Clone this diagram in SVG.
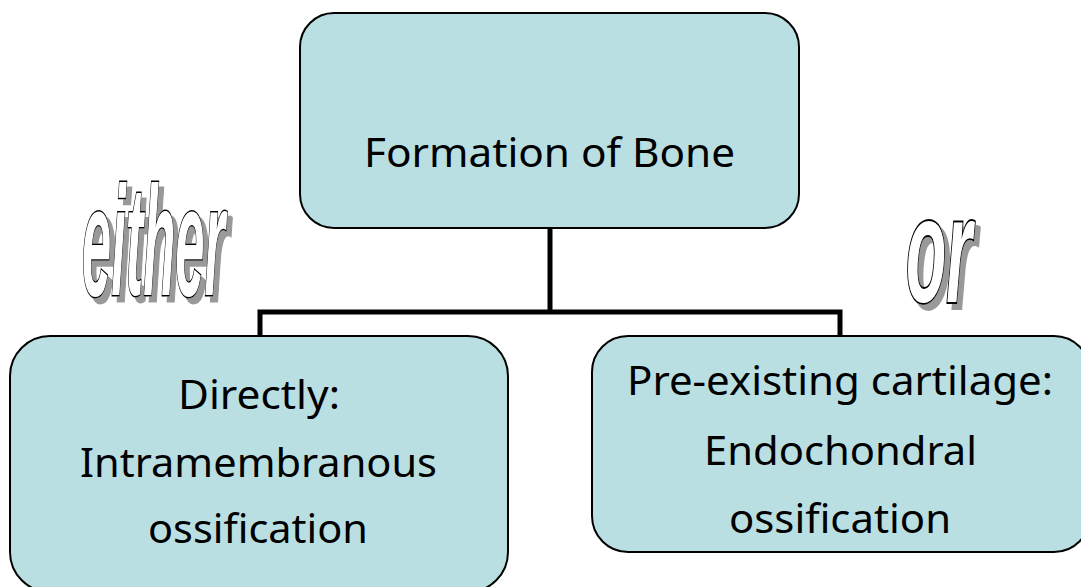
<svg xmlns="http://www.w3.org/2000/svg" width="1081" height="587" viewBox="0 0 1081 587">
<defs>
<style>
.box{fill:#badfe2;stroke:#000;stroke-width:2}
.lbl{font-family:"Noto Sans","Open Sans",sans-serif;font-size:40px;fill:#000;text-anchor:middle}
.conn{fill:none;stroke:#000;stroke-width:5}
.art{font-family:"Liberation Sans",Arial,sans-serif;font-weight:bold;font-style:italic;font-size:100px;fill:#fff;stroke:#000;stroke-width:2.5;paint-order:stroke;filter:url(#sh)}
</style>
<filter id="sh" x="-20%" y="-20%" width="150%" height="150%">
<feFlood flood-color="#999" result="c"/>
<feComposite in="c" in2="SourceAlpha" operator="in" result="s"/>
<feOffset in="s" dx="5" dy="4" result="o"/>
<feMerge><feMergeNode in="o"/><feMergeNode in="SourceGraphic"/></feMerge>
</filter>
</defs>
<rect width="1081" height="587" fill="#fff"/>
<g id="connectors">
<path class="conn" d="M550 228 V312 M260 336 V312 H840 V336"/>
</g>
<g id="top">
<rect class="box" x="300" y="13" width="499" height="215" rx="34"/>
<text class="lbl" x="549.5" y="167" textLength="371" lengthAdjust="spacingAndGlyphs">Formation of Bone</text>
</g>
<g id="left">
<rect class="box" x="10" y="336" width="498" height="256" rx="40"/>
<text class="lbl" x="259" y="409" textLength="162" lengthAdjust="spacingAndGlyphs">Directly:</text>
<text class="lbl" x="258.5" y="477" textLength="357" lengthAdjust="spacingAndGlyphs">Intramembranous</text>
<text class="lbl" x="258" y="543" textLength="220" lengthAdjust="spacingAndGlyphs">ossification</text>
</g>
<g id="right">
<rect class="box" x="592" y="336" width="498" height="216" rx="36"/>
<text class="lbl" x="840" y="395" textLength="426" lengthAdjust="spacingAndGlyphs">Pre-existing cartilage:</text>
<text class="lbl" x="840.5" y="465" textLength="273" lengthAdjust="spacingAndGlyphs">Endochondral</text>
<text class="lbl" x="840" y="533" textLength="222" lengthAdjust="spacingAndGlyphs">ossification</text>
</g>
<g id="either">
<text class="art" transform="translate(82,295) scale(1,1.55)" x="0" y="0" textLength="143" lengthAdjust="spacingAndGlyphs" vector-effect="non-scaling-stroke">either</text>
</g>
<g id="or">
<text class="art" transform="translate(906,302) scale(1,1.5)" x="0" y="0" textLength="66" lengthAdjust="spacingAndGlyphs">or</text>
</g>
</svg>
